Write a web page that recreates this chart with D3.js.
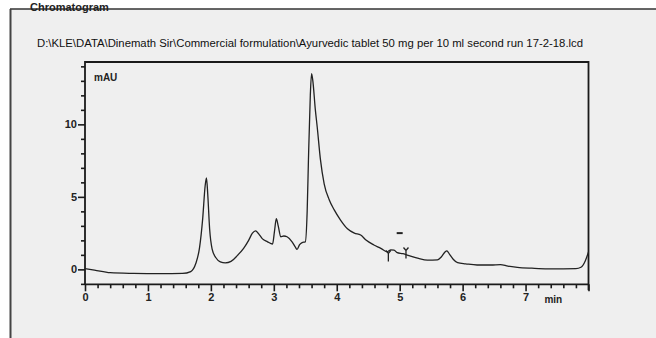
<!DOCTYPE html>
<html>
<head>
<meta charset="utf-8">
<script src="https://cdn.jsdelivr.net/npm/d3@7"></script>
<style>
  body { margin: 0; background: #fff; }
  svg { display: block; }
  .axisTxt { font-family: "Liberation Sans", Arial, sans-serif; font-size: 11px; font-weight: bold; fill: #222; }
</style>
</head>
<body>
<div id="chart"></div>
<script>

var title = "Chromatogram";
var filePath = "D:\\KLE\\DATA\\Dinemath Sir\\Commercial formulation\\Ayurvedic tablet 50 mg per 10 ml second run 17-2-18.lcd";
var yUnit = "mAU";
var xUnit = "min";

// retention time (min)
var times = [0.00, 0.15, 0.40, 0.77, 1.20, 1.55, 1.68, 1.76, 1.82, 1.87, 1.91, 1.93, 1.95, 1.98, 2.02, 2.08, 2.15, 2.23,
  2.32, 2.42, 2.52, 2.60, 2.66, 2.71, 2.76, 2.82, 2.90, 2.98, 3.01, 3.04, 3.07, 3.11, 3.16, 3.21, 3.29, 3.34, 3.37,
  3.41, 3.45, 3.50, 3.53, 3.55, 3.58, 3.60, 3.62, 3.66, 3.69, 3.74, 3.80, 3.88, 3.96, 4.06, 4.17, 4.28, 4.38, 4.47,
  4.59, 4.70, 4.80, 4.86, 4.91, 4.96, 5.05, 5.12, 5.30, 5.44, 5.60, 5.66, 5.72, 5.75, 5.79, 5.85, 5.92, 6.05, 6.23,
  6.45, 6.60, 6.72, 6.87, 7.10, 7.35, 7.60, 7.80, 7.88, 7.95, 8.00];

// absorbance (mAU)
var absorbance = [0.05, -0.05, -0.23, -0.28, -0.30, -0.28, -0.15, 0.4, 1.5, 3.5, 5.8, 6.3, 5.2, 2.8, 1.4, 0.8, 0.52, 0.45,
  0.55, 0.95, 1.45, 2.0, 2.5, 2.66, 2.45, 2.1, 1.9, 1.75, 2.6, 3.5, 3.0, 2.25, 2.3, 2.25, 1.9, 1.55, 1.38,
  1.7, 1.85, 1.9, 4.0, 7.5, 12.0, 13.5, 13.0, 11.0, 9.8, 7.6, 5.9, 4.8, 4.1, 3.4, 2.8, 2.5, 2.37, 2.0,
  1.68, 1.45, 1.21, 1.35, 1.33, 1.15, 1.08, 0.99, 0.75, 0.64, 0.66, 0.85, 1.2, 1.28, 1.05, 0.7, 0.46, 0.38, 0.3,
  0.3, 0.33, 0.22, 0.14, 0.08, 0.04, 0.04, 0.05, 0.15, 0.6, 1.2];

var xMajorTicks = [0, 1, 2, 3, 4, 5, 6, 7];
var yMajorTicks = [0, 5, 10];

// integration markers near 4.8 - 5.1 min
var markerTimes = [4.82, 5.1];
var markerValues = [1.1, 1.3];
var dashTime = 5.0;
var dashValue = 2.5;


var W = 656, H = 338;
var svg = d3.select("#chart").append("svg").attr("width", W).attr("height", H);

svg.margin = {left: 85, right: 67.5, top: 62, bottom: 53.7};
svg.width = W - svg.margin.left - svg.margin.right;
svg.height = H - svg.margin.top - svg.margin.bottom;

// panel background + frame
svg.append("rect").attr("x", 10).attr("y", 9).attr("width", W - 10).attr("height", H - 9).attr("fill", "#efefef");
svg.append("line").attr("x1", 10).attr("x2", W).attr("y1", 9).attr("y2", 9).attr("stroke", "#333").attr("stroke-width", 1.5);
svg.append("line").attr("x1", 10.5).attr("x2", 10.5).attr("y1", 9).attr("y2", H).attr("stroke", "#444").attr("stroke-width", 2);

svg.append("text").attr("x", 30).attr("y", 11)
  .style("font-family", "Liberation Sans, Arial, sans-serif").style("font-size", "11px").style("font-weight", "bold")
  .attr("fill", "#222").text(title);

svg.append("text").attr("x", 37).attr("y", 47)
  .style("font-family", "Liberation Sans, Arial, sans-serif").style("font-size", "10px")
  .attr("textLength", 546).attr("lengthAdjust", "spacingAndGlyphs")
  .attr("fill", "#111").text(filePath);

svg.x = d3.scaleLinear().domain([0, 8]).range([svg.margin.left, svg.margin.left + svg.width]);
svg.y = d3.scaleLinear().domain([-1.03, 14.3]).range([svg.margin.top + svg.height, svg.margin.top]);

var axisColor = "#1a1a1a";

// x axis: minor every 0.2 min, major every 1
var xMinor = d3.range(0, 40).map(function (i) { return i * 0.2; }).filter(function (v) {
  return Math.abs(v - Math.round(v)) > 0.01;
});
var gxMinor = svg.append("g").attr("transform", "translate(0," + svg.y.range()[0] + ")")
  .call(d3.axisBottom(svg.x).tickValues(xMinor).tickSize(4).tickFormat(""));
var gx = svg.append("g").attr("transform", "translate(0," + svg.y.range()[0] + ")")
  .call(d3.axisBottom(svg.x).tickValues(xMajorTicks.concat([8])).tickSize(7).tickPadding(2)
    .tickFormat(function (d) { return d === 8 ? "" : d; }));

// y axis: minor every 1, major at 0, 5, 10
var yMinor = d3.range(-1, 15).filter(function (v) { return yMajorTicks.indexOf(v) === -1; });
var gyMinor = svg.append("g").attr("transform", "translate(" + svg.margin.left + ",0)")
  .call(d3.axisLeft(svg.y).tickValues(yMinor).tickSize(4).tickFormat(""));
var gy = svg.append("g").attr("transform", "translate(" + svg.margin.left + ",0)")
  .call(d3.axisLeft(svg.y).tickValues(yMajorTicks).tickSize(7).tickPadding(1));

[gxMinor, gx, gyMinor, gy].forEach(function (g) {
  g.select(".domain").remove();
  g.selectAll("line").attr("stroke", axisColor).attr("stroke-width", 1.6);
  g.selectAll("text").attr("class", "axisTxt").attr("fill", "#222");
});

// plot frame
var x0 = svg.x.range()[0], x1 = svg.x.range()[1], y0 = svg.y.range()[0], y1 = svg.y.range()[1];
svg.append("path")
  .attr("d", "M" + x0 + "," + y0 + "L" + x0 + "," + y1 + "L" + x1 + "," + y1 + "L" + x1 + "," + (y0 + 6))
  .attr("fill", "none").attr("stroke", axisColor).attr("stroke-width", 1.8);
svg.append("line").attr("x1", x0).attr("x2", x1).attr("y1", y0).attr("y2", y0)
  .attr("stroke", axisColor).attr("stroke-width", 1.8);

svg.append("text").attr("x", x0 + 9).attr("y", y1 + 19).attr("class", "axisTxt")
  .style("font-size", "10px").text(yUnit);
svg.append("text").attr("x", svg.x(7.3)).attr("y", y0 + 19).attr("class", "axisTxt")
  .style("font-size", "10px").text(xUnit);

// chromatogram trace
var data = times.map(function (t, i) { return [t, absorbance[i]]; });
var valueline = d3.line().curve(d3.curveMonotoneX)
  .x(function (d) { return svg.x(d[0]); })
  .y(function (d) { return svg.y(d[1]); });

svg.append("path").datum(data).attr("d", valueline)
  .attr("fill", "none").attr("stroke", "#222").attr("stroke-width", 1.3).attr("stroke-linejoin", "round");

// peak start / end markers
markerTimes.forEach(function (t, i) {
  var mx = svg.x(t), my = svg.y(markerValues[i]);
  svg.append("path")
    .attr("d", "M" + (mx - 2.5) + "," + (my - 3) + "L" + mx + "," + my + "L" + (mx + 2.5) + "," + (my - 3) +
      "M" + mx + "," + my + "L" + mx + "," + (my + 8))
    .attr("fill", "none").attr("stroke", "#222").attr("stroke-width", 1.3);
});
svg.append("line").attr("x1", svg.x(dashTime) - 3).attr("x2", svg.x(dashTime) + 3)
  .attr("y1", svg.y(dashValue)).attr("y2", svg.y(dashValue))
  .attr("stroke", "#222").attr("stroke-width", 2);

</script>
</body>
</html>
